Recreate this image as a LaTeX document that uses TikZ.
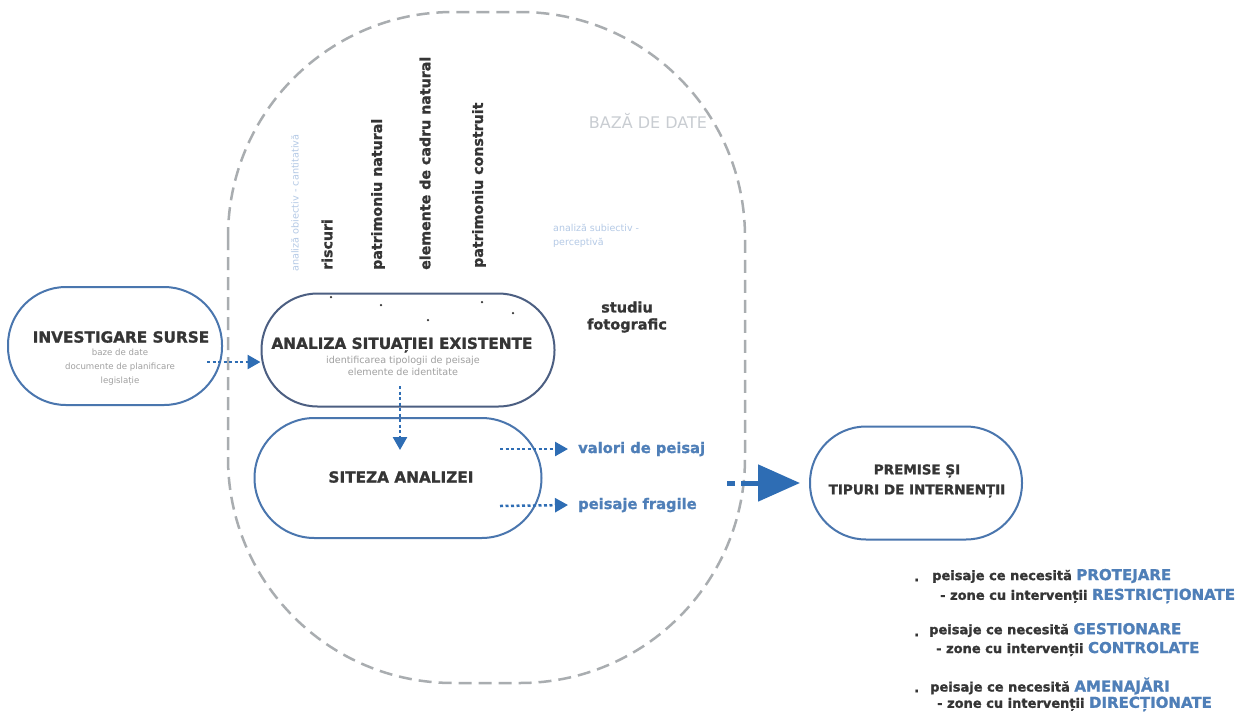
\documentclass[tikz,border=0pt]{standalone}
\usepackage{fontspec}
\setmainfont{DejaVu Sans}[BoldFeatures={FakeBold=1.2}]
\usetikzlibrary{arrows.meta}
\definecolor{bl}{HTML}{4A76AE}
\definecolor{slate}{HTML}{4C5F82}
\definecolor{arr}{HTML}{2E6DB4}
\definecolor{dk}{HTML}{353535}
\definecolor{gr}{HTML}{A9ADB0}
\definecolor{lb}{HTML}{B5CAE6}
\definecolor{lt}{HTML}{A0A0A0}
\definecolor{tb}{HTML}{4F7FB8}
\definecolor{bz}{HTML}{C9CDD2}
\tikzset{
  stadium/.style={draw=bl, line width=2pt, rectangle, rounded corners=#1, inner sep=0pt},
  ttl/.style={inner sep=0pt, font=\fontsize{15.3}{17}\selectfont\bfseries, text=dk},
  sub/.style={inner sep=0pt, align=center, text=lt},
  vlab/.style={rotate=90, anchor=west, inner sep=0pt, font=\fontsize{14.2}{16}\selectfont\bfseries, text=dk},
  dotarr/.style={arr, line width=2.5pt, dash pattern=on 3pt off 2.5pt, -{Triangle[length=13pt,width=14pt]}},
  outlab/.style={anchor=west, inner sep=0pt, font=\fontsize{14.7}{16}\selectfont\bfseries, text=tb},
  lst/.style={anchor=west, inner sep=0pt, font=\fontsize{13}{15}\selectfont\bfseries, text=dk},
  dotmark/.style={circle, fill=dk, inner sep=0pt, minimum size=2.5pt}
}
\newcommand{\hlt}[1]{{\fontsize{15}{15}\selectfont\color{tb}#1}}
\begin{document}
\begin{tikzpicture}[x=1pt,y=-1pt]
\useasboundingbox[fill=white] (0,0) rectangle (1251,713);
% outer dashed boundary
\draw[gr, line width=2.5pt, dash pattern=on 13pt off 7pt, rounded corners=225pt] (228,12) rectangle (745,683);
\node[inner sep=0pt, font=\fontsize{16}{18}\selectfont, text=bz] (baza) at (648,121) {BAZĂ DE DATE};

% main shapes
\node[stadium=58pt, minimum width=214pt, minimum height=118pt] (inv) at (115,346) {};
\node[stadium=56pt, draw=slate, minimum width=293pt, minimum height=113pt] (ana) at (408,350) {};
\node[stadium=60pt, minimum width=287pt, minimum height=120pt] (sit) at (398,478) {};
\node[stadium=56pt, minimum width=212pt, minimum height=113pt] (pre) at (916,483) {};

% texts in shapes
\node[ttl] (invt) at (121,337) {INVESTIGARE SURSE};
\node[sub, font=\fontsize{8.6}{14}\selectfont, anchor=north] (invs) at (120,349) {baze de date\\documente de planificare\\legislație};
\node[ttl] (anat) at (402,345) {ANALIZA SITUAȚIEI EXISTENTE};
\node[sub, font=\fontsize{9.6}{12}\selectfont, anchor=north] (anas) at (403,356) {identificarea tipologii de peisaje\\elemente de identitate};
\node[ttl] (sitt) at (401,477) {SITEZA ANALIZEI};
\node[inner sep=0pt, align=center, font=\fontsize{13.5}{20}\selectfont\bfseries, text=dk] (pret) at (917,481) {PREMISE ȘI\\TIPURI DE INTERNENȚII};

% vertical labels
\node[vlab, font=\fontsize{9.7}{11}\selectfont, text=lb] (vob) at (295,272) {analiză obiectiv - cantitativă};
\node[vlab] (vri) at (327,270) {riscuri};
\node[vlab] (vpn) at (378,270) {patrimoniu natural};
\node[vlab] (vec) at (425,270) {elemente de cadru natural};
\node[vlab] (vpc) at (479,268) {patrimoniu construit};

% dots
\node[dotmark] (d1) at (331,297) {};
\node[dotmark] (d2) at (381,305) {};
\node[dotmark] (d3) at (428,320) {};
\node[dotmark] (d4) at (482,302) {};
\node[dotmark] (d5) at (513,313) {};

\node[anchor=west, inner sep=0pt, align=left, font=\fontsize{9.5}{14}\selectfont, text=lb] (subj) at (553,236) {analiză subiectiv -\\perceptivă};
\node[inner sep=0pt, align=center, font=\fontsize{14.5}{17}\selectfont\bfseries, text=dk] (foto) at (627,317) {studiu\\fotografic};

% arrows
\coordinate (a1s) at (207,362);
\draw[dotarr] (a1s) -- (ana.west |- a1s);
\coordinate (a2s) at (400,386);
\draw[dotarr] (a2s) -- (400,450);
\node[outlab] (val) at (578,449) {valori de peisaj};
\node[outlab] (fra) at (578,505) {peisaje fragile};
\coordinate (a3s) at (500,449);
\coordinate (a4s) at (500,506);
\draw[dotarr] (a3s) -- ([xshift=-10pt]val.west);
\draw[dotarr] (a4s) -- ([xshift=-10pt]fra.west);

\coordinate (bs) at (727,483);
\draw[arr, line width=5pt, dash pattern=on 8pt off 6pt] (bs) -- (757,483);
\draw[arr, line width=5pt, -{Triangle[length=42pt,width=36pt]}] (747,483) -- ([xshift=-9pt]pre.west);

% list
\foreach \yy [count=\i] in {580,635,691}{
  \node[lst] (b\i) at (914,\yy) {.};
}
\node[lst] (l1) at (932,576) {peisaje ce necesită \hlt{PROTEJARE}};
\node[lst] (l2) at (940,596) {- zone cu intervenții \hlt{RESTRICȚIONATE}};
\node[lst] (l3) at (929,630) {peisaje ce necesită \hlt{GESTIONARE}};
\node[lst] (l4) at (936,649) {- zone cu intervenții \hlt{CONTROLATE}};
\node[lst] (l5) at (930,686) {peisaje ce necesită \hlt{AMENAJĂRI}};
\node[lst] (l6) at (937,704) {- zone cu intervenții \hlt{DIRECȚIONATE}};
\end{tikzpicture}
\end{document}
